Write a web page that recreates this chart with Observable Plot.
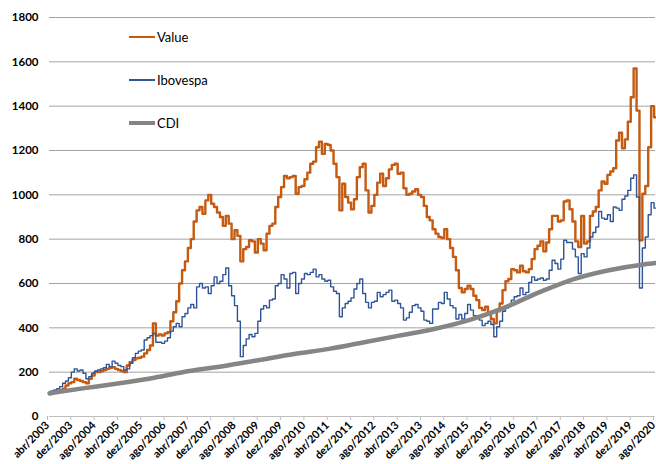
<!DOCTYPE html>
<html><head><meta charset="utf-8">
<script src="https://cdn.jsdelivr.net/npm/d3@7"></script>
<script src="https://cdn.jsdelivr.net/npm/@observablehq/plot@0.6"></script>
<style>
body{margin:0;background:#fff;}
#wrap{position:relative;width:656px;height:464px;overflow:hidden;}
.lg{position:absolute;font-family:Lato,sans-serif;font-size:13px;color:#000;line-height:16px;white-space:nowrap;}
.sw{position:absolute;}
</style></head><body>
<div id="wrap"><div id="chart"></div></div>
<script>
const tickLabels = ["abr/2003","dez/2003","ago/2004","abr/2005","dez/2005","ago/2006","abr/2007","dez/2007","ago/2008","abr/2009","dez/2009","ago/2010","abr/2011","dez/2011","ago/2012","abr/2013","dez/2013","ago/2014","abr/2015","dez/2015","ago/2016","abr/2017","dez/2017","ago/2018","abr/2019","dez/2019","ago/2020"];

// monthly values, index 0 = abr/2003
const valueSeries = [100,105,110,112,118,125,140,150,155,170,165,160,155,150,170,185,200,200,205,210,
215,220,222,215,210,205,200,230,245,255,262,265,270,285,300,320,420,365,370,365,
375,380,430,470,520,600,660,700,760,800,880,930,945,915,975,1000,960,945,920,900,
860,905,870,800,840,815,700,755,765,795,790,740,800,780,750,825,860,870,945,990,
1035,1085,1075,1080,1085,1005,1035,1040,1070,1100,1140,1150,1215,1240,1185,1230,1225,1200,1140,1080,
930,1050,990,965,935,980,1080,1125,1140,1020,920,950,1000,1055,1095,1040,1075,1115,1135,1140,
1095,1100,1030,1000,1005,1015,1025,1000,990,950,900,885,845,825,810,805,845,800,760,720,
660,580,560,575,590,575,545,525,490,480,495,465,440,420,475,510,570,610,620,665,
660,650,680,655,650,665,710,755,770,790,745,785,845,905,905,880,885,970,975,935,
880,790,765,905,780,790,905,925,945,1020,1060,1050,1090,1105,1120,1245,1280,1210,1250,1330,
1440,1570,1380,795,1005,1040,1215,1400,1350];

const ibovSeries = [110,115,120,125,135,150,160,175,200,215,205,210,195,170,180,195,205,210,215,220,
235,225,250,240,230,225,210,215,240,265,285,295,300,345,355,365,375,335,335,330,
340,355,385,405,420,405,450,465,490,505,490,585,600,580,585,555,590,630,600,610,
640,670,590,545,500,430,270,320,350,370,360,375,430,485,500,490,525,530,590,600,
640,620,580,645,650,555,600,620,645,640,650,665,630,640,620,610,615,585,565,555,
450,490,510,520,535,575,600,620,555,515,490,515,520,560,540,550,560,570,520,525,
510,490,435,445,470,500,505,490,475,435,430,420,485,485,515,510,560,530,500,490,
440,460,440,465,505,480,455,450,435,410,420,430,415,360,405,430,475,490,505,525,
540,545,580,550,560,605,630,615,620,625,615,620,660,705,690,665,710,795,785,785,
755,720,645,735,720,760,810,830,855,925,895,890,910,880,945,940,930,980,995,1020,
1075,1090,990,580,760,810,910,965,940];

const cdiMonths = [0,12,24,36,48,60,72,84,96,108,120,132,144,156,168,180,192,204,208];
const cdiValues = [105,128,150,175,205,228,255,282,305,335,365,395,435,490,560,620,660,686,692];

const seriesNames = ["Value","Ibovespa","CDI"];
const seriesColors = ["#C55A11","#2F5597","#858585"];
const seriesWidths = [2.4,1.4,4.5];

const valueRows = valueSeries.map((v,i)=>({m:i,v}));
const ibovRows = ibovSeries.map((v,i)=>({m:i,v}));
const cdiRows = cdiMonths.map((m,i)=>({m,v:cdiValues[i]}));

const chart = Plot.plot({
  width:656, height:464,
  marginLeft:49, marginRight:1, marginTop:17, marginBottom:48,
  style:{fontFamily:"Lato, sans-serif", fontSize:"11.5px", fontWeight:"bold", color:"#000", background:"#fff"},
  x:{domain:[0,208]},
  y:{domain:[0,1800]},
  marks:[
    Plot.gridY(d3.range(200,1801,200),{stroke:"#a3a3a3", strokeOpacity:1, strokeWidth:1}),
    Plot.ruleY([0],{stroke:"#bfbfbf", strokeWidth:1}),
    Plot.axisY({ticks:d3.range(0,1801,200), tickFormat:d=>String(d), tickSize:0, tickPadding:11, label:null}),
    Plot.axisX({ticks:d3.range(0,209,8), tickFormat:i=>tickLabels[i/8], tickRotate:-45, tickSize:4, tickPadding:3, dx:-2, fontSize:11, stroke:"#bfbfbf", label:null}),
    Plot.line(valueRows,{x:"m", y:"v", curve:"step", stroke:seriesColors[0], strokeWidth:seriesWidths[0]}),
    Plot.line(ibovRows,{x:"m", y:"v", curve:"step", stroke:seriesColors[1], strokeWidth:seriesWidths[1]}),
    Plot.line(cdiRows,{x:"m", y:"v", curve:"monotone-x", stroke:seriesColors[2], strokeWidth:seriesWidths[2]})
  ]
});
const wrap = document.getElementById("wrap");
document.getElementById("chart").appendChild(chart);

const legendY = [37,80,123];
seriesNames.forEach((name,i)=>{
  const sw = document.createElement("div");
  sw.className="sw";
  const h = i===2 ? 4 : (i===0 ? 2 : 1.5);
  sw.style.cssText = `left:129px;width:26px;top:${legendY[i]-h/2}px;height:${h}px;background:${seriesColors[i]};`;
  wrap.appendChild(sw);
  const t = document.createElement("div");
  t.className="lg";
  t.style.left="157px";
  t.style.top=(legendY[i]-8)+"px";
  t.textContent=name;
  wrap.appendChild(t);
});
</script>
</body></html>
